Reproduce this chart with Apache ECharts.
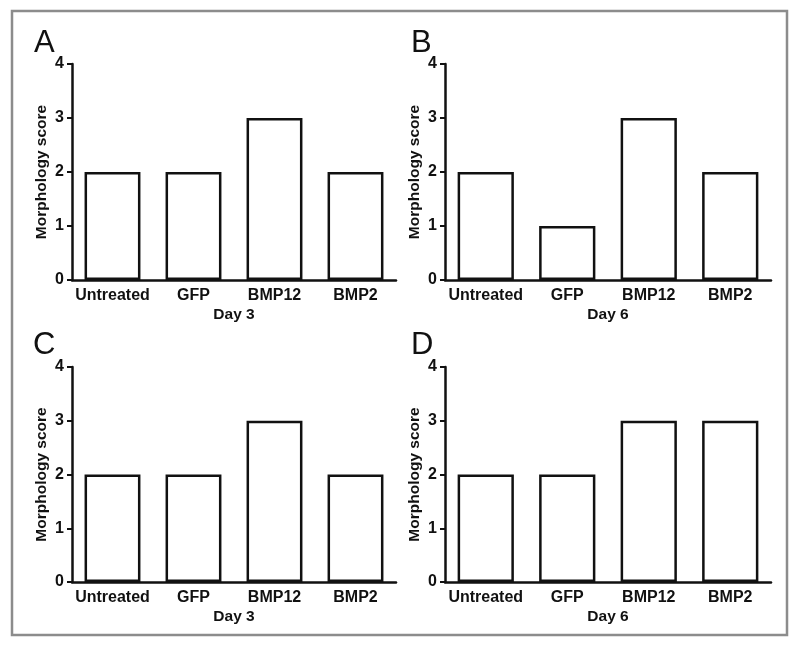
<!DOCTYPE html>
<html>
<head>
<meta charset="utf-8">
<script src="https://cdn.jsdelivr.net/npm/echarts@6/dist/echarts.min.js"></script>
<style>
html,body{margin:0;padding:0;background:#fff;}
#chart{width:800px;height:648px;}
</style>
</head>
<body>
<div id="chart"></div>
<script>
const categories = ['Untreated', 'GFP', 'BMP12', 'BMP2'];
const panelA = [2, 2, 3, 2];
const panelB = [2, 1, 3, 2];
const panelC = [2, 2, 3, 2];
const panelD = [2, 2, 3, 3];
const panelLetters = ['A', 'B', 'C', 'D'];
const dayLabels = ['Day 3', 'Day 6', 'Day 3', 'Day 6'];
const yTicks = [0, 1, 2, 3, 4];
const yName = 'Morphology score';

const panels = [panelA, panelB, panelC, panelD];
const grids = [
  {left: 72, top: 64, width: 324, height: 216},
  {left: 445, top: 64, width: 326, height: 216},
  {left: 72, top: 367, width: 324, height: 215},
  {left: 445, top: 367, width: 326, height: 215}
];
const letterPos = [[34, 43], [411, 43], [33, 345], [411, 345]];
const FONT = '"Liberation Sans", Arial, sans-serif';

const chart = echarts.init(document.getElementById('chart'));
const option = {
  animation: false,
  backgroundColor: '#fff',
  grid: grids,
  xAxis: grids.map((g, i) => ({
    type: 'category',
    gridIndex: i,
    data: categories,
    name: dayLabels[i],
    nameLocation: 'middle',
    nameGap: 27,
    nameTextStyle: {color: '#111', fontFamily: FONT, fontWeight: 'bold', fontSize: 15.5},
    axisLine: {lineStyle: {color: '#111', width: 2.5}},
    axisTick: {alignWithLabel: true, length: 6, lineStyle: {color: '#111', width: 2}},
    axisLabel: {margin: 8, color: '#111', fontFamily: FONT, fontWeight: 'bold', fontSize: 16, interval: 0}
  })),
  yAxis: grids.map((g, i) => ({
    type: 'value',
    gridIndex: i,
    min: yTicks[0],
    max: yTicks[yTicks.length - 1],
    interval: 1,
    name: yName,
    nameLocation: 'middle',
    nameRotate: 90,
    nameGap: 22,
    nameTextStyle: {color: '#111', fontFamily: FONT, fontWeight: 'bold', fontSize: 15.5},
    splitLine: {show: false},
    axisLine: {show: true, lineStyle: {color: '#111', width: 2.5}},
    axisTick: {show: true, length: 5, lineStyle: {color: '#111', width: 2}},
    axisLabel: {margin: 8, color: '#111', fontFamily: FONT, fontWeight: 'bold', fontSize: 16}
  })),
  series: panels.map((d, i) => ({
    type: 'bar',
    xAxisIndex: i,
    yAxisIndex: i,
    data: d,
    barWidth: '69%',
    itemStyle: {color: '#fff', borderColor: '#111', borderWidth: 2.5}
  })),
  graphic: [
    {type: 'rect', shape: {x: 12, y: 11, width: 775, height: 624}, style: {fill: 'none', stroke: '#8c8c8c', lineWidth: 2.5}, z: 0}
  ].concat(panelLetters.map((t, i) => ({
    type: 'text',
    x: letterPos[i][0],
    y: letterPos[i][1],
    style: {text: t, fill: '#111', font: 'normal 31px ' + FONT, align: 'left', verticalAlign: 'middle'}
  })))
};
chart.setOption(option);
</script>
</body>
</html>
